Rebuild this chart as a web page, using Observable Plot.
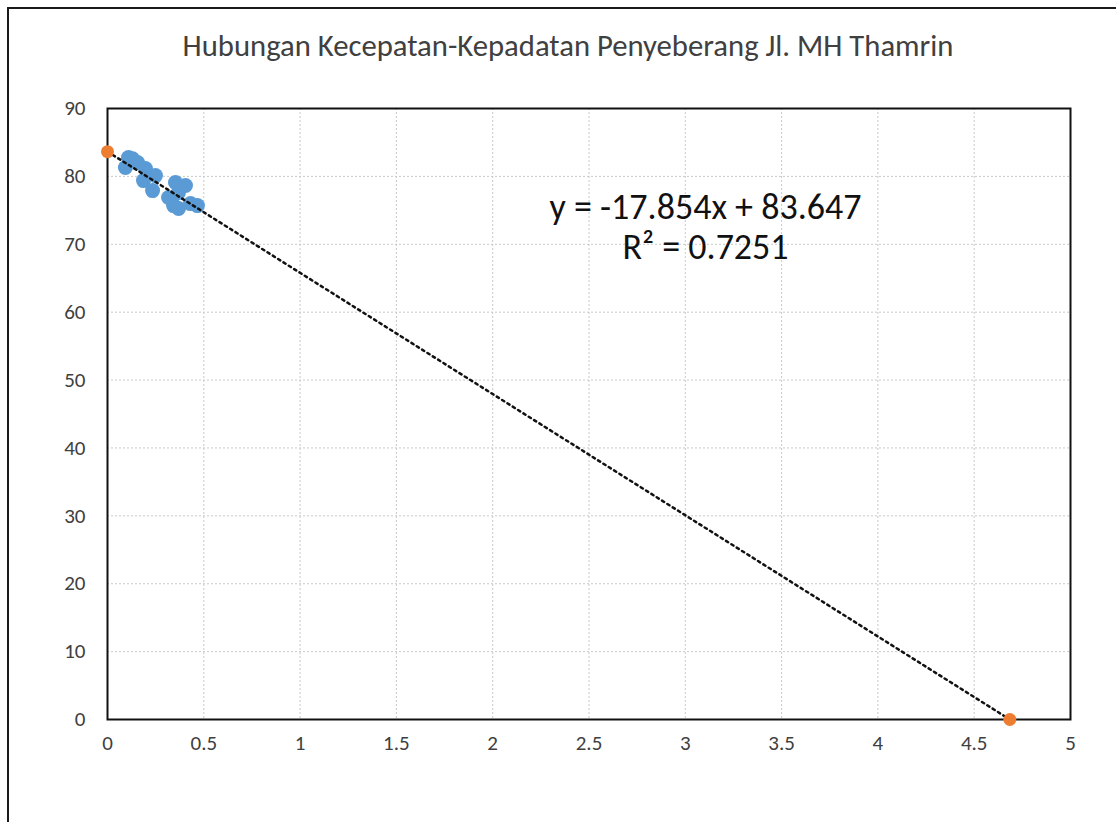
<!DOCTYPE html>
<html>
<head>
<meta charset="utf-8">
<script src="https://cdn.jsdelivr.net/npm/d3@7"></script>
<script src="https://cdn.jsdelivr.net/npm/@observablehq/plot@0.6"></script>
<style>
  html, body { margin: 0; padding: 0; background: #fff; }
  #wrap { position: relative; width: 1116px; height: 822px; overflow: hidden; }
  #border { position: absolute; left: 7px; top: 7px; width: 1200px; height: 900px;
            border-left: 2px solid #1a1a1a; border-top: 2px solid #1a1a1a; box-sizing: border-box; }
  #chart { position: absolute; left: 0; top: 0; }
</style>
</head>
<body>
<div id="wrap"><div id="border"></div><div id="chart"></div></div>
<script>
const title = "Hubungan Kecepatan-Kepadatan Penyeberang Jl. MH Thamrin";
// observed pedestrian density (x) and speed (y)
const density = [0.109, 0.130, 0.093, 0.156, 0.197, 0.187, 0.249, 0.234, 0.353, 0.405, 0.317, 0.369, 0.369, 0.431, 0.467, 0.343];
const speed   = [82.77, 82.60, 81.30, 82.03, 81.15, 79.38, 80.12, 77.91, 79.09, 78.65, 76.88, 77.61, 75.26, 75.99, 75.70, 75.70];
// intercept points (orange) of the regression line
const interceptX = [0, 4.685];
const interceptY = [83.647, 0];
const slope = -17.854, intercept = 83.647;
const eqLines = ["y = -17.854x + 83.647", "R² = 0.7251"];
const xTicks = [0, 0.5, 1, 1.5, 2, 2.5, 3, 3.5, 4, 4.5, 5];
const yTicks = [0, 10, 20, 30, 40, 50, 60, 70, 80, 90];

const obs = density.map((d, i) => ({x: d, y: speed[i]}));
const ends = interceptX.map((d, i) => ({x: d, y: interceptY[i]}));
const trend = interceptX.map(x => ({x, y: slope * x + intercept}));
const eqLabel = [{x: 3.105, y: 72.7, text: eqLines.join("\n")}];

const font = "Carlito, Lato, 'Open Sans', sans-serif";
const chart = Plot.plot({
  width: 1116, height: 822,
  marginLeft: 107, marginRight: 46, marginTop: 108, marginBottom: 103,
  style: {fontFamily: font, fontSize: "21px", background: "transparent", color: "#404040"},
  x: {domain: [0, 5], ticks: xTicks},
  y: {domain: [0, 90], ticks: yTicks},
  marks: [
    Plot.gridX(xTicks, {stroke: "#c8c8c8", strokeOpacity: 1, strokeDasharray: "2,2", strokeWidth: 1}),
    Plot.gridY(yTicks, {stroke: "#c8c8c8", strokeOpacity: 1, strokeDasharray: "2,2", strokeWidth: 1}),
    Plot.axisX(xTicks, {tickSize: 0, tickPadding: 16, fontSize: 21, label: null, tickFormat: d => String(d), fill: "#404040"}),
    Plot.axisY(yTicks, {tickSize: 0, tickPadding: 22, fontSize: 21, label: null, tickFormat: d => String(d), fill: "#404040"}),
    Plot.frame({stroke: "#111", strokeWidth: 2}),
    Plot.dot(obs, {x: "x", y: "y", r: 7.5, fill: "#5B9BD5", stroke: "none"}),
    Plot.line(trend, {x: "x", y: "y", stroke: "#111", strokeWidth: 2.5, strokeDasharray: "2.5,3.8"}),
    Plot.dot(ends, {x: "x", y: "y", r: 6.5, fill: "#ED7D31", stroke: "none"}),
    Plot.text(eqLabel, {x: "x", y: "y", text: "text", fontSize: 36, fill: "#111", lineHeight: 1.12, textAnchor: "middle"}),
    Plot.text([title], {frameAnchor: "top", lineAnchor: "middle", dx: -21, dy: -62, fontSize: 30.7, fill: "#404040", textAnchor: "middle"})
  ]
});
document.getElementById("chart").appendChild(chart);
</script>
</body>
</html>
